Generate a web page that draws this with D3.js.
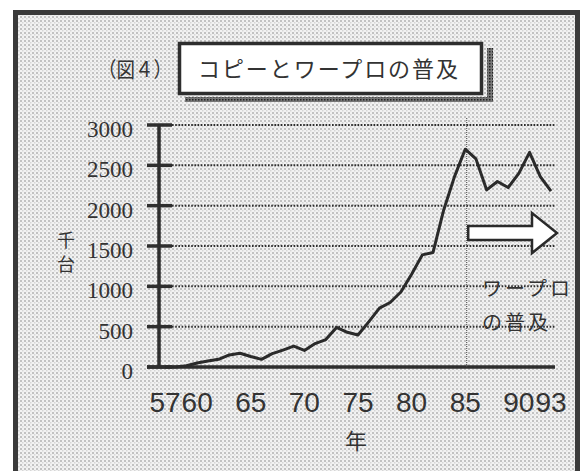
<html>
<head>
<meta charset="UTF-8"/>
<script src="https://d3js.org/d3.v7.min.js"></script>
<title>コピーとワープロの普及</title>
<style>
body { margin:0; background:#fff; }
.grid {
	stroke: #2e2e2e;
	stroke-width: 2;
	stroke-dasharray: 1.6 1.6;
}
.axisline {
	stroke: #2e2e2e;
	stroke-width: 3.5;
}
.ylab { font-family: 'Liberation Serif', 'DejaVu Serif', serif; font-size: 23px; fill:#333; }
.xlab { font-family: 'Liberation Sans', sans-serif; font-size: 28px; fill:#333; }
.jp { font-family: 'Noto Sans CJK JP', sans-serif; fill:#333; }
</style>
</head>
<body>
<svg id='big' width=584 height=471></svg>
<script>
'use strict';

// 年 (昭和)
var years = [57,58,59,60,61,62,63,64,65,66,67,68,69,70,71,72,73,74,75,
	76,77,78,79,80,81,82,83,84,85,86,87,88,89,90,91,92,93];
// 千台
var units = [0,0,15,50,74,95,150,170,130,95,165,210,258,205,290,340,490,430,397,
	560,730,800,930,1150,1390,1420,1950,2360,2700,2580,2195,2300,2225,2400,2660,2360,2180];

var yTicks = [0,500,1000,1500,2000,2500,3000];
var xLabels = [57,60,65,70,75,80,85,90,93];

var svg = d3.select('#big');

var defs = svg.append('defs');
var pat = defs.append('pattern').attr('id','dots')
	.attr('width',4).attr('height',4).attr('patternUnits','userSpaceOnUse');
pat.append('rect').attr('width',4).attr('height',4).attr('fill','#f2f2f2');
pat.append('rect').attr('width',2).attr('height',2).attr('fill','#c2c2c2');
pat.append('rect').attr('x',2).attr('y',2).attr('width',1.5).attr('height',1.5).attr('fill','#d6d6d6');

var pat2 = defs.append('pattern').attr('id','shade')
	.attr('width',3).attr('height',3).attr('patternUnits','userSpaceOnUse');
pat2.append('rect').attr('width',3).attr('height',3).attr('fill','#777');
pat2.append('rect').attr('width',1.5).attr('height',1.5).attr('fill','#222');

// frame
svg.append('rect')
	.attr('x',15.5).attr('y',12.5).attr('width',562).attr('height',480)
	.attr('fill','url(#dots)').attr('stroke','#3a3a3a').attr('stroke-width',5);

var sx = d3.scaleLinear().domain([57,93]).range([165,551]);
var sy = d3.scaleLinear().domain([0,3000]).range([367,125]);

// title
svg.append('rect').attr('x',185).attr('y',97).attr('width',308).attr('height',5).attr('fill','url(#shade)');
svg.append('rect').attr('x',487).attr('y',48).attr('width',6).attr('height',54).attr('fill','url(#shade)');
svg.append('rect')
	.attr('x',179.5).attr('y',43.5).attr('width',302).attr('height',50)
	.attr('fill','#fff').attr('stroke','#2e2e2e').attr('stroke-width',3.5);
svg.append('text').attr('class','jp')
	.attr('x',198).attr('y',77).attr('font-size',22)
	.attr('textLength',260).attr('lengthAdjust','spacing')
	.text('コピーとワープロの普及');
svg.append('text').attr('class','jp')
	.attr('x',98).attr('y',77).attr('font-size',21)
	.attr('textLength',74).attr('lengthAdjust','spacingAndGlyphs')
	.text('（図４）');

// grid lines
svg.selectAll('.grid')
	.data(yTicks.slice(1))
	.enter()
	.append('line')
	.attr('class','grid')
	.attr('x1',172).attr('x2',556)
	.attr('y1',function(d){return sy(d)})
	.attr('y2',function(d){return sy(d)});

// tick stubs
svg.selectAll('.tick')
	.data(yTicks)
	.enter()
	.append('line')
	.attr('class','axisline')
	.attr('x1',147).attr('x2',172)
	.attr('y1',function(d){return sy(d)})
	.attr('y2',function(d){return sy(d)});

svg.append('line').attr('class','axisline')
	.attr('x1',159).attr('x2',159).attr('y1',sy(3000)).attr('y2',sy(0));
svg.append('line').attr('class','axisline')
	.attr('x1',147).attr('x2',555).attr('y1',sy(0)).attr('y2',sy(0));

svg.selectAll('.ylab')
	.data(yTicks)
	.enter()
	.append('text')
	.attr('class','ylab')
	.attr('text-anchor','end')
	.attr('x',133)
	.attr('y',function(d){return sy(d)+12})
	.text(function(d){return d});

svg.selectAll('.xlab')
	.data(xLabels)
	.enter()
	.append('text')
	.attr('class','xlab')
	.attr('text-anchor','middle')
	.attr('x',function(d){return sx(d)})
	.attr('y',412)
	.text(function(d){return d});

svg.append('text').attr('class','jp').attr('font-size',22)
	.attr('text-anchor','middle').attr('x',356).attr('y',449).text('年');
svg.append('text').attr('class','jp').attr('font-size',18)
	.attr('text-anchor','middle').attr('x',66).attr('y',247).text('千');
svg.append('text').attr('class','jp').attr('font-size',18)
	.attr('text-anchor','middle').attr('x',66).attr('y',271).text('台');

// 85年の縦線
svg.append('line')
	.attr('x1',sx(85)+1.5).attr('x2',sx(85)+1.5)
	.attr('y1',118).attr('y2',sy(0))
	.attr('stroke','#444').attr('stroke-width',1)
	.attr('stroke-dasharray','1 1');

// data line
var line = d3.line()
	.x(function(d,i){return sx(years[i])})
	.y(function(d){return sy(d)});

svg.append('path')
	.datum(units)
	.attr('d',line)
	.attr('fill','none')
	.attr('stroke','#2a2a2a')
	.attr('stroke-width',3)
	.attr('stroke-linejoin','round');

// arrow
var ax0 = sx(85)+3, ax1 = sx(93)+6, ay = sy(1660), ah = 25;
svg.append('path')
	.attr('d', 'M'+ax0+','+(ay-7)+'H'+(ax1-ah)+'V'+(ay-20)+'L'+ax1+','+ay
		+'L'+(ax1-ah)+','+(ay+20)+'V'+(ay+7)+'H'+ax0+'Z')
	.attr('fill','#fff').attr('stroke','#2a2a2a').attr('stroke-width',2.5)
	.attr('stroke-linejoin','miter');

svg.append('text').attr('class','jp').attr('font-size',20)
	.attr('x',482).attr('y',296).attr('textLength',88).attr('lengthAdjust','spacing')
	.attr('fill','#444').text('ワープロ');
svg.append('text').attr('class','jp').attr('font-size',20)
	.attr('x',482).attr('y',330).attr('textLength',66).attr('lengthAdjust','spacing')
	.attr('fill','#444').text('の普及');
</script>
</body>
</html>
